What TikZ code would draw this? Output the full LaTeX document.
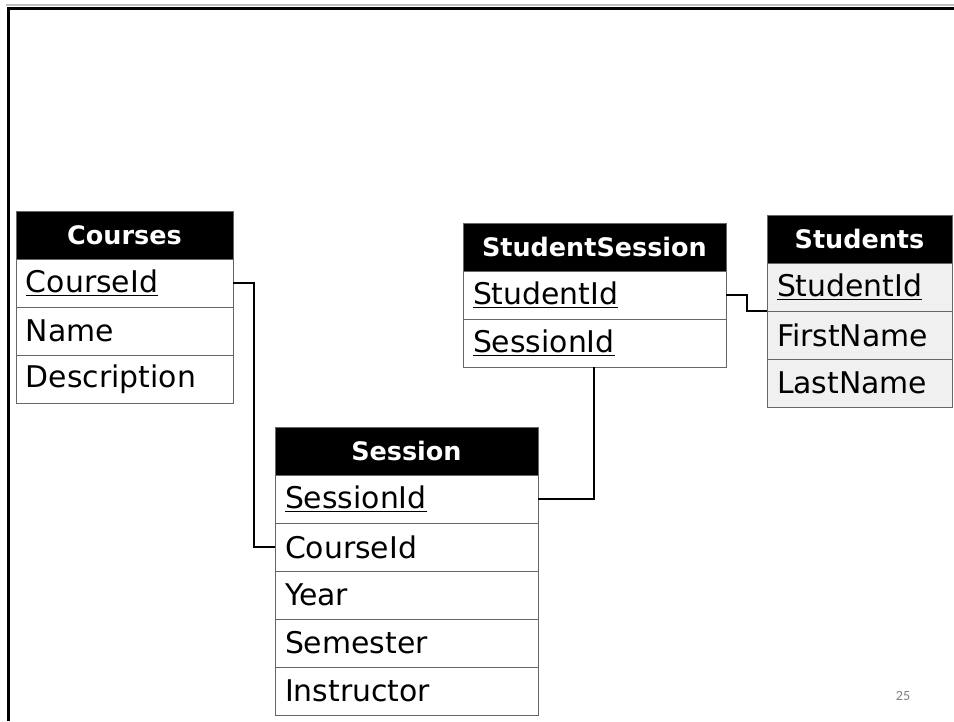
\documentclass[tikz,border=0pt]{standalone}
\usepackage{fontspec}
\setmainfont{DejaVu Sans}
\newfontfamily\numfont{Carlito}
\usepackage{tikz}
\usetikzlibrary{positioning}
\usepackage{xcolor}

\begin{document}
\begin{tikzpicture}[x=0.02cm, y=-0.02cm]

		\clip (0,0) rectangle (954,721);
		\tikzset{entete/.style={fill=black, draw=black!60, text=white, font=\fontsize{14.5}{16}\selectfont\bfseries, text width=#1, align=center, minimum height=0.96cm, inner xsep=0.2cm, inner ysep=0pt, outer sep=0pt}}
		\tikzset{champ/.style={draw=black!60, font=\fontsize{17}{19}\selectfont, text width=#1, align=left, minimum height=0.96cm, inner xsep=0.2cm, inner ysep=0pt, outer sep=0pt}}
		\tikzset{lien/.style={line width=0.04cm}}

		% cadre
		\draw[gray!50, line width=0.6pt] (6,5) -- (954,5);
		\draw[line width=0.06cm] (8.5,721) -- (8.5,8) -- (954,8);

		% Courses
		\node[entete=3.94cm, anchor=north west] (C) at (16,211) {Courses};
		\node[champ=3.94cm, below=0pt of C] (C1) {\underline{CourseId}};
		\node[champ=3.94cm, below=0pt of C1] (C2) {Name};
		\node[champ=3.94cm, below=0pt of C2] (C3) {Description};

		% Session
		\node[entete=4.86cm, anchor=north west] (S) at (275,427) {Session};
		\node[champ=4.86cm, below=0pt of S] (S1) {\underline{SessionId}};
		\node[champ=4.86cm, below=0pt of S1] (S2) {CourseId};
		\node[champ=4.86cm, below=0pt of S2] (S3) {Year};
		\node[champ=4.86cm, below=0pt of S3] (S4) {Semester};
		\node[champ=4.86cm, below=0pt of S4] (S5) {Instructor};

		% StudentSession
		\node[entete=4.86cm, anchor=north west] (SS) at (463,223) {StudentSession};
		\node[champ=4.86cm, below=0pt of SS] (SS1) {\underline{StudentId}};
		\node[champ=4.86cm, below=0pt of SS1] (SS2) {\underline{SessionId}};

		% Students
		\node[entete=3.30cm, anchor=north west] (E) at (767,215) {Students};
		\node[champ=3.30cm, fill=gray!12, below=0pt of E] (E1) {\underline{StudentId}};
		\node[champ=3.30cm, fill=gray!12, below=0pt of E1] (E2) {FirstName};
		\node[champ=3.30cm, fill=gray!12, below=0pt of E2] (E3) {LastName};

    \draw[lien] (C1.east) -- ++(21,0) |- (S2.west);
    \draw[lien] (S1.east) -| (SS2.south);
    \draw[lien] (SS1.east) -- ++(21,0) |- (E1.south west);

    \node[text=gray, font=\numfont\fontsize{8}{9}\selectfont] (P) at (903,696) {25};

		\end{tikzpicture}
\end{document}
